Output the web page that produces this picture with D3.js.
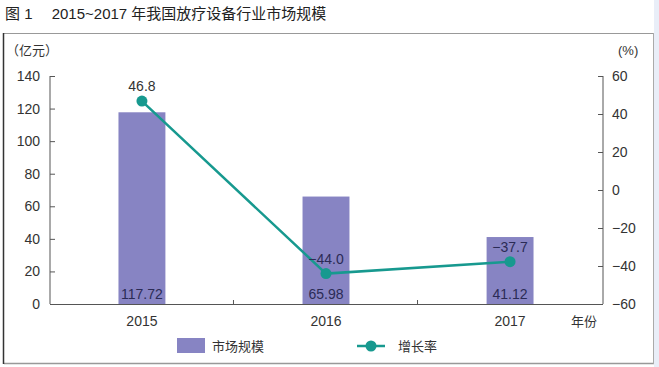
<!DOCTYPE html>
<html><head><meta charset="utf-8">
<script src="https://cdn.jsdelivr.net/npm/d3@7/dist/d3.min.js"></script>
<style>
html,body{margin:0;padding:0;background:#fff;}
text{font-family:"Liberation Sans","Noto Sans CJK SC",sans-serif;}
</style></head><body>
<svg id="c" width="659" height="367"></svg>
<script>
const years = ["2015","2016","2017"];
const marketSize = [117.72, 65.98, 41.12];
const growthRate = [46.8, -44.0, -37.7];
const growthLabels = ["46.8","\u221244.0","\u221237.7"];
const leftTicks = [0,20,40,60,80,100,120,140];
const rightTicks = [-60,-40,-20,0,20,40,60];
const rightTickLabels = ["\u221260","\u221240","\u221220","0","20","40","60"];

const svg = d3.select("#c");
const W=659,H=367;
const barColor="#8784c3", lineColor="#17998f", axisColor="#555";

svg.append("rect").attr("x",0).attr("y",0).attr("width",W).attr("height",H).attr("fill","#fff");
svg.append("rect").attr("x",654).attr("y",0).attr("width",5).attr("height",H).attr("fill","#e9eef8");
svg.append("line").attr("x1",4).attr("x2",654).attr("y1",33.5).attr("y2",33.5).attr("stroke","#999").attr("stroke-width",1);
svg.append("line").attr("x1",4).attr("x2",654).attr("y1",363.5).attr("y2",363.5).attr("stroke","#999").attr("stroke-width",1.5);
svg.append("line").attr("x1",3.5).attr("x2",3.5).attr("y1",33).attr("y2",364).attr("stroke","#333").attr("stroke-width",1.5);
svg.append("line").attr("x1",653.5).attr("x2",653.5).attr("y1",33).attr("y2",364).attr("stroke","#aaa").attr("stroke-width",1);

svg.append("text").attr("x",5).attr("y",19).attr("font-size",15).attr("fill","#222")
  .attr("font-family","'Noto Sans CJK SC',sans-serif")
  .text("图 1\u2003 2015~2017 年我国放疗设备行业市场规模");

const x = d3.scaleBand().domain(years).range([50,602]).paddingInner(0.745).paddingOuter(0.372);
const step = x.step();
const yL = d3.scaleLinear().domain([0,140]).range([304,76]);
const yR = d3.scaleLinear().domain([-60,60]).range([304,76]);

svg.selectAll("rect.bar").data(years).enter().append("rect").attr("class","bar")
  .attr("x",d=>x(d)).attr("width",x.bandwidth())
  .attr("y",(d,i)=>yL(marketSize[i])).attr("height",(d,i)=>yL(0)-yL(marketSize[i]))
  .attr("fill",barColor);

const gL = svg.append("g").attr("transform","translate(50,0)")
  .call(d3.axisRight(yL).tickValues(leftTicks).tickSize(5).tickFormat(d3.format("d")));
gL.select(".domain").attr("stroke",axisColor).attr("d","M0,76V304");
gL.selectAll(".tick line").attr("stroke",axisColor);
gL.selectAll(".tick text").attr("x",-10).attr("text-anchor","end").attr("font-size",14).attr("fill","#333").attr("font-family","'Liberation Sans',sans-serif");

const gR = svg.append("g").attr("transform","translate(603,0)")
  .call(d3.axisLeft(yR).tickValues(rightTicks).tickSize(5).tickFormat((d,i)=>rightTickLabels[i]));
gR.select(".domain").attr("stroke",axisColor).attr("d","M0,76V304");
gR.selectAll(".tick line").attr("stroke",axisColor);
gR.selectAll(".tick text").attr("x",9).attr("text-anchor","start").attr("font-size",14).attr("fill","#333").attr("font-family","'Liberation Sans',sans-serif");

const gX = svg.append("g").attr("transform","translate(0,304)");
gX.append("line").attr("x1",50).attr("x2",603).attr("y1",0.5).attr("y2",0.5).attr("stroke",axisColor);
gX.selectAll("line.t").data(years.slice(1)).enter().append("line").attr("class","t")
  .attr("x1",d=>x(d)-x.paddingInner()*step/2 - 0.5).attr("x2",d=>x(d)-x.paddingInner()*step/2 - 0.5)
  .attr("y1",0).attr("y2",-4).attr("stroke",axisColor);
gX.selectAll("text").data(years).enter().append("text")
  .attr("x",d=>x(d)+x.bandwidth()/2).attr("y",22).attr("text-anchor","middle")
  .attr("font-size",14).attr("fill","#333").text(d=>d);
svg.append("text").attr("x",584).attr("y",326).attr("text-anchor","middle").attr("font-size",13).attr("fill","#333")
  .attr("font-family","'Noto Sans CJK SC',sans-serif").text("年份");

svg.append("text").attr("x",6).attr("y",55).attr("font-size",13).attr("fill","#333")
  .attr("font-family","'Noto Sans CJK SC',sans-serif").text("（亿元）");
svg.append("text").attr("x",618).attr("y",55).attr("font-size",13).attr("fill","#333").text("(%)");

svg.selectAll("text.bv").data(years).enter().append("text").attr("class","bv")
  .attr("x",d=>x(d)+x.bandwidth()/2).attr("y",299).attr("text-anchor","middle")
  .attr("font-size",14).attr("fill","#2b2b55").text((d,i)=>marketSize[i].toFixed(2));

const cx = d=>x(d)+x.bandwidth()/2;
const line = d3.line().x(d=>cx(d.y)).y(d=>yR(d.v));
const pts = years.map((y,i)=>({y:y,v:growthRate[i]}));
svg.append("path").datum(pts).attr("d",line).attr("fill","none").attr("stroke",lineColor).attr("stroke-width",2.5);
svg.selectAll("circle.pt").data(pts).enter().append("circle").attr("class","pt")
  .attr("cx",d=>cx(d.y)).attr("cy",d=>yR(d.v)).attr("r",5.5).attr("fill",lineColor);
svg.selectAll("text.gl").data(pts).enter().append("text").attr("class","gl")
  .attr("x",d=>cx(d.y)).attr("y",d=>yR(d.v)-10).attr("text-anchor","middle")
  .attr("font-size",14).attr("fill",(d,i)=>i===0?"#333":"#2b2b55").text((d,i)=>growthLabels[i]);

svg.append("rect").attr("x",177).attr("y",338).attr("width",28).attr("height",15).attr("fill",barColor);
svg.append("text").attr("x",212).attr("y",351).attr("font-size",13).attr("fill","#333")
  .attr("font-family","'Noto Sans CJK SC',sans-serif").text("市场规模");
svg.append("line").attr("x1",357).attr("x2",385).attr("y1",346).attr("y2",346).attr("stroke",lineColor).attr("stroke-width",2.5);
svg.append("circle").attr("cx",371).attr("cy",346).attr("r",5.5).attr("fill",lineColor);
svg.append("text").attr("x",398).attr("y",351).attr("font-size",13).attr("fill","#333")
  .attr("font-family","'Noto Sans CJK SC',sans-serif").text("增长率");
</script>
</body></html>
